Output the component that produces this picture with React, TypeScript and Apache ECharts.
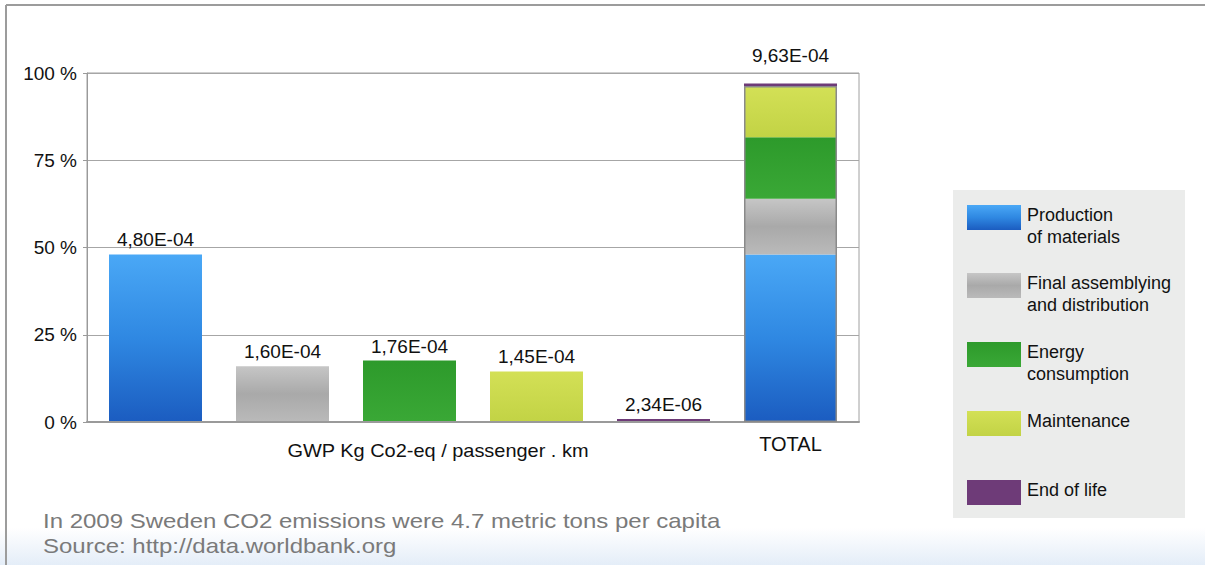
import React, { useEffect, useRef } from "react";
import * as echarts from "echarts";

// ---------- DATA ----------
const categories = [
  "Production of materials",
  "Final assemblying and distribution",
  "Energy consumption",
  "Maintenance",
  "End of life",
  "TOTAL",
];
const legendLabels = [
  "Production\nof materials",
  "Final assemblying\nand distribution",
  "Energy\nconsumption",
  "Maintenance",
  "End of life",
];
// GWP Kg CO2-eq / passenger . km
const componentValues = [4.8e-4, 1.6e-4, 1.76e-4, 1.45e-4, 2.34e-6];
const totalValue = 9.63e-4;
const fullScale = 1.0e-3; // value shown as 100 %
const yTicks = [0, 25, 50, 75, 100];
const xAxisTitle = "GWP Kg Co2-eq / passenger . km";
const footnoteLines = [
  "In 2009 Sweden CO2 emissions were 4.7 metric tons per capita",
  "Source: http://data.worldbank.org",
];

const FONT = "Liberation Sans, Arial, sans-serif";

function fmt(v: number): string {
  const [m, e] = v.toExponential(2).split("e");
  const ex = parseInt(e, 10);
  return (
    m.replace(".", ",") +
    "E" +
    (ex < 0 ? "-" : "+") +
    String(Math.abs(ex)).padStart(2, "0")
  );
}

function grad(stops: [number, string][]) {
  return new echarts.graphic.LinearGradient(
    0,
    0,
    0,
    1,
    stops.map(([offset, color]) => ({ offset, color }))
  );
}

const fills = () => [
  grad([
    [0, "#4aa8f6"],
    [0.5, "#2f88e2"],
    [1, "#1b5cc0"],
  ]),
  grad([
    [0, "#c6c6c6"],
    [0.5, "#a9a9a9"],
    [1, "#bababa"],
  ]),
  grad([
    [0, "#2d9a2b"],
    [1, "#3aa836"],
  ]),
  grad([
    [0, "#d3e056"],
    [1, "#c2d345"],
  ]),
  "#6e3b78",
];

export default function App() {
  const ref = useRef<HTMLDivElement>(null);

  useEffect(() => {
    if (!ref.current) return;
    const chart = echarts.init(ref.current, null, { renderer: "svg" });
    const f = fills();
    const pct = (v: number) => (v / fullScale) * 100;
    const n = categories.length;

    const stackSeries = componentValues.map((v, i) => {
      const data: any[] = categories.map((_, ci) => {
        if (ci === i) return { value: pct(v), label: { show: true } };
        if (ci === n - 1) return { value: pct(v), label: { show: false } };
        return "-";
      });
      return {
        name: legendLabels[i].replace("\n", " "),
        type: "bar",
        stack: "total",
        xAxisIndex: 1,
        yAxisIndex: 1,
        barWidth: 93,
        barMinHeight: i === 4 ? 3 : 0,
        itemStyle: { color: f[i] },
        label: {
          show: false,
          position: "top",
          distance: 5,
          fontSize: 19,
          fontFamily: FONT,
          color: "#111",
          formatter: () => fmt(v),
        },
        data,
      };
    });

    const overlay = {
      name: "TOTAL",
      type: "bar",
      xAxisIndex: 1,
      yAxisIndex: 1,
      barWidth: 93,
      barGap: "-100%",
      z: 5,
      itemStyle: {
        color: "rgba(0,0,0,0)",
        borderColor: "#8a8a8a",
        borderWidth: 1.5,
      },
      label: {
        show: true,
        position: "top",
        distance: 21,
        fontSize: 19,
        fontFamily: FONT,
        color: "#111",
        formatter: () => fmt(totalValue),
      },
      data: categories.map((c, ci) => (ci === n - 1 ? pct(totalValue) : "-")),
    };

    const legendTops = [205, 273, 342, 411, 480];
    const legendGraphics: any[] = [
      {
        type: "rect",
        shape: { x: 953, y: 190, width: 232, height: 328 },
        style: { fill: "#ebeceb" },
        z: 1,
      },
    ];
    legendLabels.forEach((lab, i) => {
      legendGraphics.push({
        type: "rect",
        shape: { x: 967, y: legendTops[i], width: 54, height: 25 },
        style: { fill: f[i] },
        z: 2,
      });
      legendGraphics.push({
        type: "text",
        x: 1027,
        y: legendTops[i] - 1,
        style: {
          text: lab,
          fontSize: 18,
          fontFamily: FONT,
          fill: "#111",
          lineHeight: 22,
          verticalAlign: "top",
          align: "left",
        },
        z: 2,
      });
    });

    chart.setOption({
      animation: false,
      backgroundColor: "#fff",
      grid: [
        {
          left: 87,
          right: 1205 - 859,
          top: 73,
          bottom: 565 - 422,
          show: true,
          borderColor: "#a0a0a0",
          borderWidth: 1,
          backgroundColor: "transparent",
        },
        {
          left: 92,
          right: 1205 - 854,
          top: 73,
          bottom: 565 - 422,
        },
      ],
      xAxis: [
        {
          type: "category",
          gridIndex: 0,
          data: categories,
          axisLine: { show: true, lineStyle: { color: "#9a9a9a", width: 2 } },
          axisTick: { show: false },
          axisLabel: { show: false },
          z: 4,
        },
        {
          type: "category",
          gridIndex: 1,
          data: categories,
          axisLine: { show: false },
          axisTick: { show: false },
          axisLabel: {
            show: true,
            margin: 12,
            fontSize: 20,
            fontFamily: FONT,
            color: "#111",
            interval: 0,
            formatter: (val: string) => (val === "TOTAL" ? val : ""),
          },
        },
      ],
      yAxis: [
        {
          type: "value",
          gridIndex: 0,
          min: yTicks[0],
          max: yTicks[yTicks.length - 1],
          interval: 25,
          axisLine: { show: true, lineStyle: { color: "#9a9a9a", width: 1 } },
          axisTick: { show: true, length: 4, lineStyle: { color: "#9a9a9a" } },
          axisLabel: {
            margin: 10,
            fontSize: 19,
            fontFamily: FONT,
            color: "#111",
            formatter: (v: number) => `${v} %`,
          },
          splitLine: { show: true, lineStyle: { color: "#a6a6a6", width: 1 } },
        },
        {
          type: "value",
          gridIndex: 1,
          min: 0,
          max: 100,
          interval: 25,
          axisLine: { show: false },
          axisTick: { show: false },
          axisLabel: { show: false },
          splitLine: { show: false },
        },
      ],
      series: [...stackSeries, overlay],
      graphic: [
        {
          type: "rect",
          shape: { x: 0, y: 528, width: 1205, height: 37 },
          style: {
            fill: new echarts.graphic.LinearGradient(0, 0, 0, 1, [
              { offset: 0, color: "#ffffff" },
              { offset: 1, color: "#e4edf8" },
            ]),
          },
          z: -10,
        },
        {
          type: "line",
          shape: { x1: 6, y1: 5, x2: 1205, y2: 5 },
          style: { stroke: "#9c9c9c", lineWidth: 2 },
        },
        {
          type: "line",
          shape: { x1: 6, y1: 5, x2: 6, y2: 565 },
          style: { stroke: "#9c9c9c", lineWidth: 2 },
        },
        {
          type: "text",
          x: 438,
          y: 450,
          scaleX: 1.05,
          style: {
            text: xAxisTitle,
            fontSize: 19,
            fontFamily: FONT,
            fill: "#111",
            align: "center",
            verticalAlign: "middle",
          },
        },
        {
          type: "text",
          x: 43,
          y: 521,
          scaleX: 1.2,
          style: {
            text: footnoteLines[0],
            fontSize: 20,
            fontFamily: FONT,
            fill: "#7a7a7a",
            verticalAlign: "middle",
          },
        },
        {
          type: "text",
          x: 43,
          y: 546,
          scaleX: 1.2,
          style: {
            text: footnoteLines[1],
            fontSize: 20,
            fontFamily: FONT,
            fill: "#7a7a7a",
            verticalAlign: "middle",
          },
        },
        ...legendGraphics,
      ],
    });

    return () => chart.dispose();
  }, []);

  return (
    <div
      ref={ref}
      style={{
        position: "fixed",
        left: 0,
        top: 0,
        width: 1205,
        height: 565,
      }}
    />
  );
}
